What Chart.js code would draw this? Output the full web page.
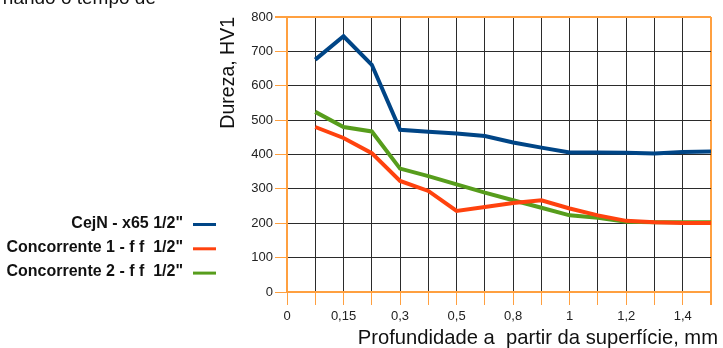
<!DOCTYPE html>
<html>
<head>
<meta charset="utf-8">
<script src="https://cdn.jsdelivr.net/npm/chart.js@4/dist/chart.umd.min.js"></script>
<style>
  html, body { margin: 0; padding: 0; background: #fff; overflow: hidden; }
  #wrap { position: relative; width: 723px; height: 348px; }
  #c { position: absolute; left: 0; top: 0; }
  #snippet {
    position: absolute; left: 0; top: -13px; width: 156px;
    text-align: right; white-space: nowrap;
    font: 19px "Liberation Sans", Arial, sans-serif; line-height: 22px; color: #111;
  }
</style>
</head>
<body>
<div id="wrap">
  <canvas id="c" width="723" height="348"></canvas>
  <div id="snippet">nando o tempo de</div>
</div>
<script>
// Depth positions along the x axis (labels shown on every other line)
const depthLabels = ['0', '', '0,15', '', '0,3', '', '0,5', '', '0,8', '', '1', '', '1,2', '', '1,4', ''];

// Hardness HV1 for each sample
const cejnX65 = [null, 676, 744, 661, 472, 466, 461, 454, 435, 420, 406, 406, 405, 403, 407, 409];
const concorrente1 = [null, 480, 448, 404, 323, 294, 236, 247, 259, 267, 243, 223, 207, 203, 201, 201];
const concorrente2 = [null, 524, 480, 467, 359, 337, 313, 289, 267, 245, 223, 216, 204, 203, 203, 203];

const seriesNames = ['CejN - x65 1/2"', 'Concorrente 1 - f f  1/2"', 'Concorrente 2 - f f  1/2"'];
const seriesColors = ['#004586', '#ff420e', '#579d1c'];

const yTitle = 'Dureza, HV1';
const xTitle = 'Profundidade a  partir da superfície, mm';

const ORANGE = '#ffa040';
const GRID = '#2b2b2b';
const FONT = '"Liberation Sans", Arial, sans-serif';

// Legend on the left, text right-aligned before a short line sample
const sideLegend = {
  id: 'sideLegend',
  afterDraw(chart) {
    const ctx = chart.ctx;
    ctx.save();
    ctx.font = 'bold 16px ' + FONT;
    ctx.textAlign = 'right';
    ctx.textBaseline = 'alphabetic';
    chart.data.datasets.forEach((ds, i) => {
      const base = 227.5 + i * 24.3;
      ctx.fillStyle = '#111';
      ctx.fillText(ds.label, 183, base);
      ctx.strokeStyle = ds.borderColor;
      ctx.lineWidth = 3;
      ctx.beginPath();
      ctx.moveTo(193, base - 3);
      ctx.lineTo(216, base - 3);
      ctx.stroke();
    });
    // x axis title, right aligned under the plot
    ctx.font = '20.2px ' + FONT;
    ctx.fillStyle = '#111';
    ctx.textAlign = 'right';
    ctx.fillText(xTitle, 718, 344);
    ctx.restore();
  }
};

const mkSet = (label, data, color) => ({
  label, data,
  borderColor: color, backgroundColor: color,
  borderWidth: 4, pointRadius: 0, tension: 0, fill: false
});

new Chart(document.getElementById('c'), {
  type: 'line',
  data: {
    labels: depthLabels,
    datasets: [
      mkSet(seriesNames[0], cejnX65, seriesColors[0]),
      mkSet(seriesNames[1], concorrente1, seriesColors[1]),
      mkSet(seriesNames[2], concorrente2, seriesColors[2])
    ]
  },
  options: {
    responsive: false,
    devicePixelRatio: 1,
    animation: false,
    layout: { padding: { left: 217, right: 12, top: 17, bottom: 0 } },
    plugins: { legend: { display: false }, tooltip: { enabled: false } },
    scales: {
      x: {
        type: 'category',
        offset: false,
        afterFit(s) { s.height = 56; },
        grid: {
          color: (c) => (c.index === depthLabels.length - 1 ? ORANGE : GRID),
          lineWidth: (c) => (c.index === depthLabels.length - 1 ? 2 : 1),
          tickColor: ORANGE,
          tickLength: 13,
          drawTicks: true
        },
        border: { color: ORANGE, width: 2 },
        ticks: {
          autoSkip: false, maxRotation: 0, padding: 4,
          color: '#222', font: { family: FONT, size: 13 }
        },
        title: { display: false }
      },
      y: {
        min: 0, max: 800,
        afterFit(s) { s.width = 70; },
        grid: {
          color: (c) => (c.tick && c.tick.value === 800 ? ORANGE : GRID),
          lineWidth: (c) => (c.tick && c.tick.value === 800 ? 2 : 1),
          tickColor: ORANGE,
          tickLength: 12
        },
        border: { color: ORANGE, width: 2 },
        ticks: {
          stepSize: 100, padding: 2,
          color: '#222', font: { family: FONT, size: 13 }
        },
        title: {
          display: true, text: yTitle, align: 'end',
          color: '#111', padding: 0,
          font: { family: FONT, size: 19.5, lineHeight: 1.2 }
        }
      }
    }
  },
  plugins: [sideLegend]
});
</script>
</body>
</html>
